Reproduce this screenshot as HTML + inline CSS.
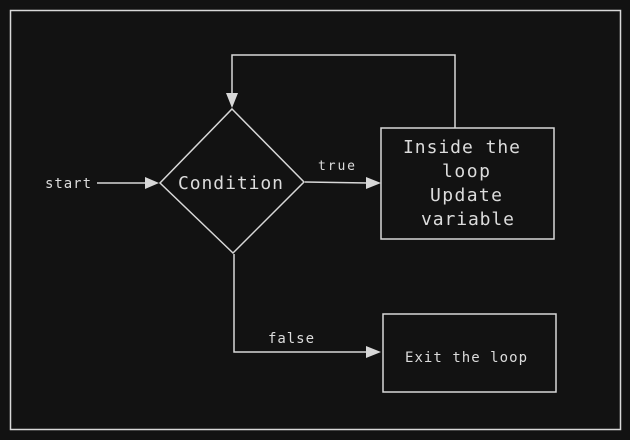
<!DOCTYPE html>
<html><head><style>
html,body{margin:0;padding:0;background:#121212;overflow:hidden;}
text{font-family:"DejaVu Sans Mono","Liberation Mono",monospace;fill:#dcdcdc;}
</style></head><body>
<svg width="630" height="440" xmlns="http://www.w3.org/2000/svg" style="display:block">
<rect width="630" height="440" fill="#121212"/>
<rect x="10.5" y="10.5" width="610" height="419" fill="none" stroke="#d8d8d8" stroke-width="1.5"/>
<g stroke="#d8d8d8" stroke-width="1.5" fill="none">
<polygon points="232,109 304,182 233,253 160,183"/>
<rect x="381" y="128" width="173" height="111"/>
<rect x="383" y="314" width="173" height="78"/>
<polyline points="97,183 147,183"/>
<polyline points="305,182 368,183"/>
<polyline points="455,128 455,55 232,55 232,95"/>
<polyline points="234,254 234,352 368,352"/>
</g>
<g fill="#d8d8d8">
<polygon points="159,183 145,177 145,189"/>
<polygon points="381,183 366,177 366,189"/>
<polygon points="232,108 226,93 238,93"/>
<polygon points="381,352 366,346 366,358"/>
</g>
<text x="45" y="188" font-size="14" textLength="46">start</text>
<text x="178" y="189" font-size="18" textLength="105">Condition</text>
<text x="318" y="170" font-size="13" textLength="37">true</text>
<text x="268" y="343" font-size="14" textLength="46">false</text>
<g font-size="18">
<text x="403" y="153" textLength="117">Inside the</text>
<text x="442" y="177" textLength="48">loop</text>
<text x="430" y="201" textLength="72">Update</text>
<text x="421" y="225" textLength="93">variable</text>
</g>
<text x="405" y="362" font-size="14" textLength="122">Exit the loop</text>
</svg>
</body></html>
